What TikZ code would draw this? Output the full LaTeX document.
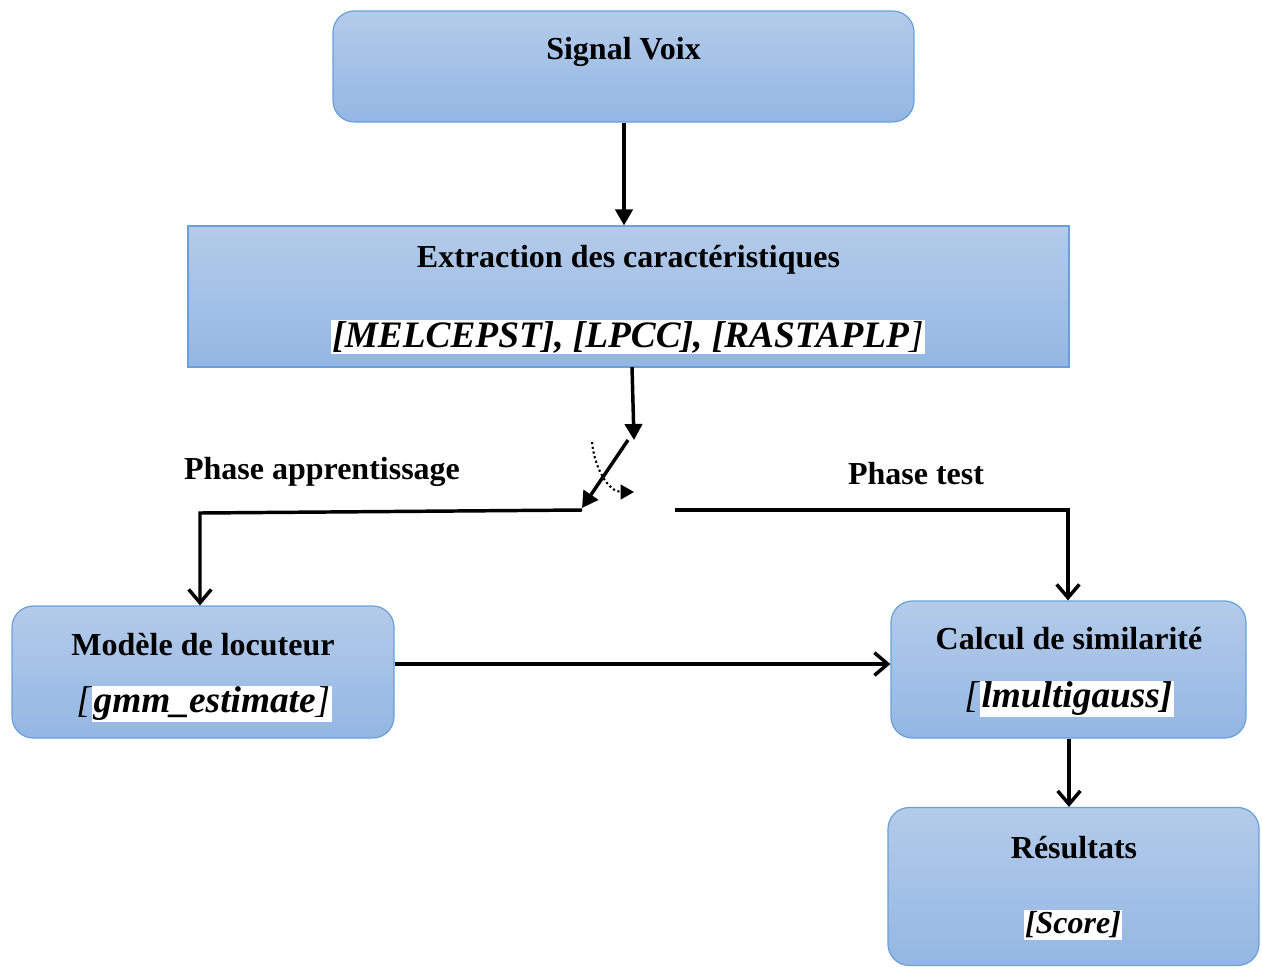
\documentclass[tikz,border=0pt]{standalone}
\usepackage{fontspec}
\setmainfont{Liberation Serif}
\usetikzlibrary{arrows.meta}
\definecolor{boxtop}{HTML}{B4CBEA}
\definecolor{boxbot}{HTML}{93B7E3}
\definecolor{boxline}{HTML}{6A9FDA}
\newcommand{\whitebg}[1]{{\setlength{\fboxsep}{1pt}\colorbox{white}{#1}}}
\newcommand{\bi}[1]{\textbf{\textit{#1}}}
\begin{document}
\begin{tikzpicture}[x=0.75pt,y=-0.75pt,
  box/.style={draw=boxline, line width=0.9pt, top color=boxtop, bottom color=boxbot,
    inner sep=0pt, rounded corners=16pt},
  title/.style={font=\fontsize{24}{28}\selectfont\bfseries, inner sep=0pt},
  code/.style={font=\fontsize{28}{32}\selectfont, inner sep=0pt},
  wire/.style={line width=2.6pt},
  barb/.style={wire, -{Straight Barb[length=10pt,width=17pt,line width=2.6pt]}},
  tri/.style={wire, -{Triangle[length=12pt,width=13pt]}}]
\useasboundingbox (0,0) rectangle (1262,967);
% boxes
\node[box, minimum width=435.75pt, minimum height=83.25pt] (voix) at (623.5,66.5) {};
\node[box, rounded corners=0pt, minimum width=660.75pt, minimum height=105.75pt] (extract) at (628.5,296.5) {};
\node[box, minimum width=286.5pt, minimum height=99pt] (modele) at (203,672) {};
\node[box, minimum width=266.25pt, minimum height=102.75pt] (calcul) at (1068.5,669.5) {};
\node[box, minimum width=278.25pt, minimum height=118.5pt] (result) at (1073.5,886.5) {};
% texts
\node[title] (voixtxt) at (623.5,52) {Signal Voix};
\node[title] (extracttxt) at (628.5,260) {Extraction des caractéristiques};
\node[code] (extractcode) at (628,337) {\whitebg{\bi{[MELCEPST], [LPCC], [RASTAPLP}\textit{]}}};
\node[title] (modeletxt) at (203,645) {Modèle de locuteur};
\node[code] (modelecode) at (204,704) {\textit{[}\whitebg{\bi{gmm\_estimate}\textit{]}}};
\node[title] (calcultxt) at (1069,639) {Calcul de similarité};
\node[code] (calculcode) at (1069,699) {\textit{[}\whitebg{\bi{lmultigauss]}}};
\node[title] (resulttxt) at (1074,848) {Résultats};
\node[title, font=\fontsize{24}{28}\selectfont] (resultcode) at (1073,925) {\whitebg{\bi{[Score]}}};
\node[title] (apprent) at (322,472) {Phase apprentissage};
\node[title] (test) at (916,474) {Phase test};
% switch
\coordinate (xout) at (632,367);
\coordinate (swtop) at (634,440);
\coordinate (swtip) at (628,440);
\coordinate (swend) at (582,508);
\coordinate (swleft) at (582,510);
\coordinate (swright) at (675,510);
\coordinate (arcstart) at (592,442);
\coordinate (arcend) at (634,492);
% connectors
\draw[tri] (voix.south -| 624,0) -- (extract.north -| 624,0);
\draw[tri] (xout) -- (swtop);
\draw[tri] (swtip) -- (swend);
\draw[line width=1.6pt, dotted, -{Triangle[length=10pt,width=11pt]}] (arcstart) to[out=-85,in=180] (arcend);
\draw[barb] (swleft) -- (200,513) -- (modele.north -| 200,0);
\draw[barb] (swright) -- (1068,510) -- (calcul.north -| 1068,0);
\draw[barb] (modele.east |- 0,664) -- (calcul.west |- 0,664);
\draw[barb] (calcul.south -| 1069,0) -- (result.north -| 1069,0);
\end{tikzpicture}
\end{document}
